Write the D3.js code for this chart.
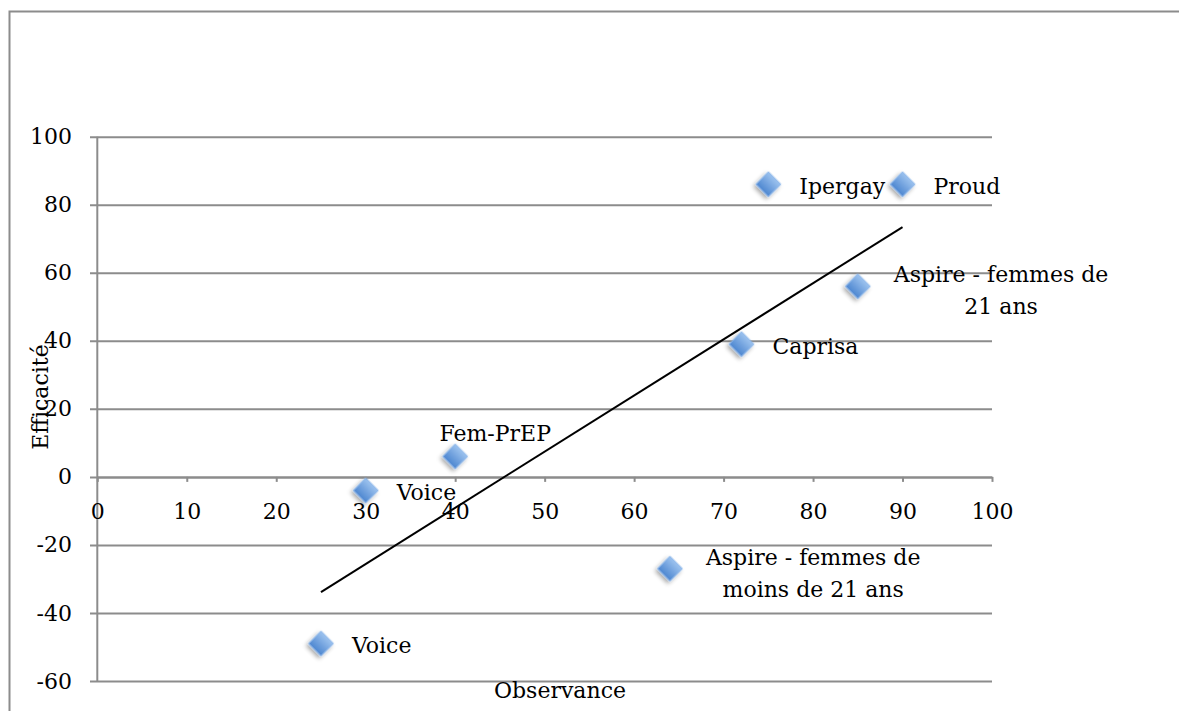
<!DOCTYPE html>
<html>
<head>
<meta charset="utf-8">
<script src="https://cdn.jsdelivr.net/npm/d3@7"></script>
<style>
  html, body { margin: 0; padding: 0; background: #fff; }
  svg { display: block; }
  text { font-family: "DejaVu Serif", "Liberation Serif", serif; fill: #000; }
</style>
</head>
<body>
<svg id="chart" width="1179" height="711"></svg>
<script>
// ---- data ----
const studyNames = ["Ipergay", "Proud", "Aspire - femmes de\n21 ans", "Caprisa", "Fem-PrEP", "Voice", "Aspire - femmes de\nmoins de 21 ans", "Voice"];
const observance = [75, 90, 85, 72, 40, 30, 64, 25];
const efficacite = [86, 86, 56, 39, 6, -4, -27, -49];
const labelPlacement = ["right", "right", "rightBlock", "right", "above", "right", "rightBlock", "right"];
const xTickValues = [0, 10, 20, 30, 40, 50, 60, 70, 80, 90, 100];
const yTickValues = [-60, -40, -20, 0, 20, 40, 60, 80, 100];
const xTitle = "Observance";
const yTitle = "Efficacité";

// ---- layout ----
const svg = d3.select("#chart");
const W = 1179, H = 711;
const plotLeft = 97.3, plotRight = 992, plotTop = 136.7, plotBottom = 681;
const gridColor = "#8c8c8c";
const fmt = d => String(d); // plain hyphen-minus like the original

const x = d3.scaleLinear().domain([0, 100]).range([plotLeft, plotRight]);
const y = d3.scaleLinear().domain([-60, 100]).range([plotBottom, plotTop]);

// defs: gradient + shadow
const defs = svg.append("defs");
const grad = defs.append("linearGradient").attr("id", "diamondGrad")
  .attr("x1", "0").attr("y1", "0").attr("x2", "0").attr("y2", "1");
grad.append("stop").attr("offset", "0%").attr("stop-color", "#9cc2ee");
grad.append("stop").attr("offset", "100%").attr("stop-color", "#4d86d0");
const filt = defs.append("filter").attr("id", "shadow").attr("x", "-50%").attr("y", "-50%").attr("width", "200%").attr("height", "200%");
filt.append("feDropShadow").attr("dx", 0).attr("dy", 3).attr("stdDeviation", 2)
  .attr("flood-color", "#000").attr("flood-opacity", 0.35);

// outer frame (top and left edges visible)
svg.append("path")
  .attr("d", `M9.5,${H} L9.5,11.5 L${W},11.5`)
  .attr("fill", "none").attr("stroke", "#8c8c8c").attr("stroke-width", 2);

// Y axis with gridlines
const yAxis = d3.axisLeft(y)
  .tickValues(yTickValues)
  .tickSizeInner(-(plotRight - 90))
  .tickSizeOuter(0)
  .tickPadding(18)
  .tickFormat(fmt);
const gy = svg.append("g").attr("transform", `translate(90,0)`).call(yAxis);
gy.select(".domain").remove();
gy.selectAll(".tick line").attr("stroke", gridColor).attr("stroke-width", 2);
gy.selectAll(".tick text").style("font-size", "22px").attr("fill", "#000")
  .style("font-family", "\"DejaVu Serif\", serif");

// vertical axis line
svg.append("line")
  .attr("x1", plotLeft).attr("x2", plotLeft)
  .attr("y1", plotTop).attr("y2", plotBottom)
  .attr("stroke", gridColor).attr("stroke-width", 2);

// X axis at y = 0
const xAxis = d3.axisBottom(x)
  .tickValues(xTickValues)
  .tickSizeInner(5)
  .tickSizeOuter(0)
  .tickPadding(22)
  .tickFormat(fmt);
const gx = svg.append("g").attr("transform", `translate(0,${y(0)})`).call(xAxis);
gx.select(".domain").attr("stroke", gridColor).attr("stroke-width", 2);
gx.selectAll(".tick line").attr("stroke", gridColor).attr("stroke-width", 2);
gx.selectAll(".tick text").style("font-size", "22px").attr("fill", "#000")
  .style("font-family", "\"DejaVu Serif\", serif");

// trend line (least squares)
const n = observance.length;
const mx = d3.mean(observance), my = d3.mean(efficacite);
let sxy = 0, sxx = 0;
for (let i = 0; i < n; i++) {
  sxy += (observance[i] - mx) * (efficacite[i] - my);
  sxx += (observance[i] - mx) ** 2;
}
const slope = sxy / sxx, intercept = my - slope * mx;
const [xmin, xmax] = d3.extent(observance);
svg.append("line")
  .attr("x1", x(xmin)).attr("y1", y(slope * xmin + intercept))
  .attr("x2", x(xmax)).attr("y2", y(slope * xmax + intercept))
  .attr("stroke", "#000").attr("stroke-width", 2);

// points
const pts = observance.map((v, i) => ({ x: v, y: efficacite[i], name: studyNames[i], place: labelPlacement[i] }));
svg.append("g").selectAll("path").data(pts).join("path")
  .attr("d", d3.symbol(d3.symbolSquare, 310))
  .attr("transform", d => `translate(${x(d.x)},${y(d.y)}) rotate(45)`)
  .attr("fill", "url(#diamondGrad)")
  .attr("stroke", "#8ab5ea").attr("stroke-width", 1)
  .attr("filter", "url(#shadow)");

// labels
const lg = svg.append("g").style("font-size", "22px");
pts.forEach(d => {
  const px = x(d.x), py = y(d.y);
  const lines = d.name.split("\n");
  if (d.place === "right") {
    lg.append("text").attr("x", px + 31).attr("y", py + 2)
      .attr("dominant-baseline", "central").text(d.name);
  } else if (d.place === "above") {
    lg.append("text").attr("x", px + 40).attr("y", py - 23)
      .attr("text-anchor", "middle").attr("dominant-baseline", "central").text(d.name);
  } else {
    const t = lg.append("text").attr("text-anchor", "middle").attr("dominant-baseline", "central");
    const spans = lines.map((l, i) => t.append("tspan").text(l));
    const maxW = d3.max(spans, s => s.node().getComputedTextLength());
    const cx = px + 36 + maxW / 2;
    const lh = 32;
    spans.forEach((s, i) => s.attr("x", cx).attr("y", py + 4 + (i - (lines.length - 1) / 2) * lh));
  }
});

// axis titles
svg.append("text").attr("x", 560).attr("y", 698)
  .attr("text-anchor", "middle").style("font-size", "22px").text(xTitle);
svg.append("text")
  .attr("transform", `translate(40,397) rotate(-90)`)
  .attr("text-anchor", "middle").attr("dominant-baseline", "central")
  .style("font-size", "22px").text(yTitle);
</script>
</body>
</html>
